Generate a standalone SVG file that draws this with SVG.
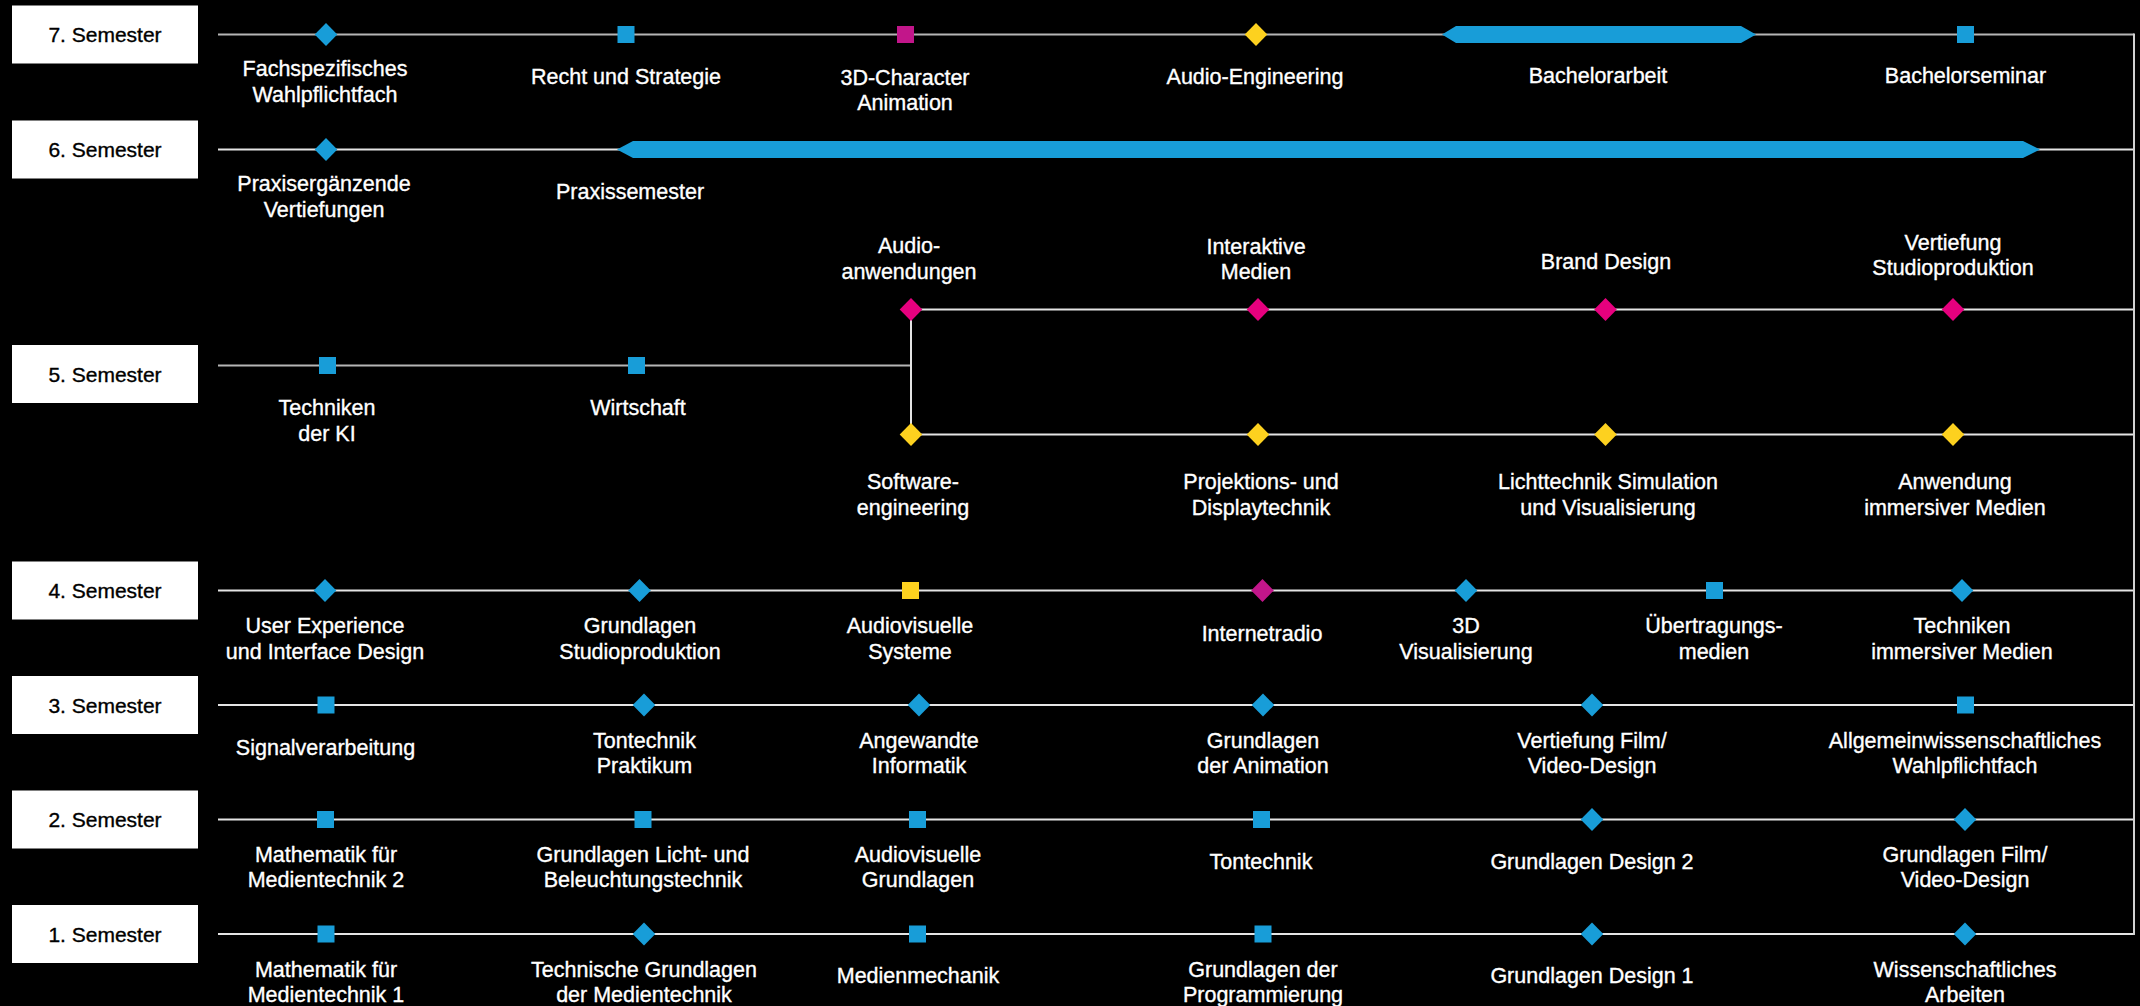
<svg xmlns="http://www.w3.org/2000/svg" xmlns:xlink="http://www.w3.org/1999/xlink" width="2140" height="1006" viewBox="0 0 2140 1006">
<style>
.ln{stroke:#e4e4e4;stroke-width:2;fill:none}
.ln.dim{stroke:#b5b5b5}
.ln.v{stroke:#d2d2d2}
.blue{fill:#189dd8}
.mag{fill:#c2168a}
.pink{fill:#e6007e}
.yel{fill:#fdd11f}
.box{fill:#ffffff}
.sem{font-family:"Liberation Sans",Arial,sans-serif;font-size:21px;fill:#000;stroke:#000;stroke-width:0.35;text-anchor:middle}
.lbl{font-family:"Liberation Sans",Arial,sans-serif;font-size:21.5px;fill:#fff;stroke:#fff;stroke-width:0.35;text-anchor:middle}
</style>
<defs>
<path id="dia" d="M0,-11.5 L11.3,0 L0,11.5 L-11.3,0 Z"/>
<rect id="sq" x="-8.5" y="-8.5" width="17" height="17"/>
</defs>
<rect x="0" y="0" width="2140" height="1006" fill="#000"/>

<g id="connectors">
<line class="ln dim" x1="218" y1="34.5" x2="2134" y2="34.5"/>
<line class="ln" x1="218" y1="149.5" x2="2134" y2="149.5"/>
<line class="ln dim" x1="218" y1="365.5" x2="911" y2="365.5"/>
<line class="ln" x1="911" y1="309.5" x2="911" y2="434.5"/>
<line class="ln" x1="911" y1="309.5" x2="2134" y2="309.5"/>
<line class="ln" x1="911" y1="434.5" x2="2134" y2="434.5"/>
<line class="ln" x1="218" y1="590.5" x2="2134" y2="590.5"/>
<line class="ln" x1="218" y1="705" x2="2134" y2="705"/>
<line class="ln" x1="218" y1="819.5" x2="2134" y2="819.5"/>
<line class="ln" x1="218" y1="934" x2="2134" y2="934"/>
<line class="ln v" x1="2134" y1="33.5" x2="2134" y2="935"/>
</g>

<g id="semesters">
<g id="sem7"><rect class="box" x="12" y="5.5" width="186" height="58"/><text class="sem" x="105" y="42">7. Semester</text></g>
<g id="sem6"><rect class="box" x="12" y="120.5" width="186" height="58"/><text class="sem" x="105" y="157">6. Semester</text></g>
<g id="sem5"><rect class="box" x="12" y="345" width="186" height="58"/><text class="sem" x="105" y="381.5">5. Semester</text></g>
<g id="sem4"><rect class="box" x="12" y="561.5" width="186" height="58"/><text class="sem" x="105" y="598">4. Semester</text></g>
<g id="sem3"><rect class="box" x="12" y="676" width="186" height="58"/><text class="sem" x="105" y="712.5">3. Semester</text></g>
<g id="sem2"><rect class="box" x="12" y="790.5" width="186" height="58"/><text class="sem" x="105" y="827">2. Semester</text></g>
<g id="sem1"><rect class="box" x="12" y="905" width="186" height="58"/><text class="sem" x="105" y="941.5">1. Semester</text></g>
</g>

<!-- Semester 7 -->
<g id="n7-1"><use xlink:href="#dia" x="326" y="34.5" class="blue"/><text class="lbl" x="325" y="76">Fachspezifisches</text><text class="lbl" x="325" y="102">Wahlpflichtfach</text></g>
<g id="n7-2"><use xlink:href="#sq" x="626" y="34.5" class="blue"/><text class="lbl" x="626" y="84">Recht und Strategie</text></g>
<g id="n7-3"><use xlink:href="#sq" x="905.5" y="34.5" class="mag"/><text class="lbl" x="905" y="85">3D-Character</text><text class="lbl" x="905" y="110">Animation</text></g>
<g id="n7-4"><use xlink:href="#dia" x="1256" y="34.5" class="yel"/><text class="lbl" x="1255" y="84">Audio-Engineering</text></g>
<g id="n7-5"><polygon class="blue" points="1442,34.5 1456,26 1741,26 1756,34.5 1741,43 1456,43"/><text class="lbl" x="1598" y="83">Bachelorarbeit</text></g>
<g id="n7-6"><use xlink:href="#sq" x="1965.5" y="34.5" class="blue"/><text class="lbl" x="1965.5" y="83">Bachelorseminar</text></g>

<!-- Semester 6 -->
<g id="n6-1"><use xlink:href="#dia" x="326" y="149.5" class="blue"/><text class="lbl" x="324" y="191">Praxisergänzende</text><text class="lbl" x="324" y="217">Vertiefungen</text></g>
<g id="n6-2"><polygon class="blue" points="617,149.5 633,141 2023,141 2040,149.5 2023,158 633,158"/><text class="lbl" x="630" y="199">Praxissemester</text></g>

<!-- Semester 5 -->
<g id="n5-1"><use xlink:href="#sq" x="327.5" y="365.5" class="blue"/><text class="lbl" x="327" y="415">Techniken</text><text class="lbl" x="327" y="441">der KI</text></g>
<g id="n5-2"><use xlink:href="#sq" x="636.5" y="365.5" class="blue"/><text class="lbl" x="638" y="415">Wirtschaft</text></g>
<g id="n5-3"><use xlink:href="#dia" x="911" y="309.5" class="pink"/><text class="lbl" x="909" y="253">Audio-</text><text class="lbl" x="909" y="279">anwendungen</text></g>
<g id="n5-4"><use xlink:href="#dia" x="1258" y="309.5" class="pink"/><text class="lbl" x="1256" y="254">Interaktive</text><text class="lbl" x="1256" y="279">Medien</text></g>
<g id="n5-5"><use xlink:href="#dia" x="1605.5" y="309.5" class="pink"/><text class="lbl" x="1606" y="269">Brand Design</text></g>
<g id="n5-6"><use xlink:href="#dia" x="1953" y="309.5" class="pink"/><text class="lbl" x="1953" y="250">Vertiefung</text><text class="lbl" x="1953" y="275">Studioproduktion</text></g>
<g id="n5-7"><use xlink:href="#dia" x="911" y="434.5" class="yel"/><text class="lbl" x="913" y="489">Software-</text><text class="lbl" x="913" y="515">engineering</text></g>
<g id="n5-8"><use xlink:href="#dia" x="1258" y="434.5" class="yel"/><text class="lbl" x="1261" y="489">Projektions- und</text><text class="lbl" x="1261" y="515">Displaytechnik</text></g>
<g id="n5-9"><use xlink:href="#dia" x="1605.5" y="434.5" class="yel"/><text class="lbl" x="1608" y="489">Lichttechnik Simulation</text><text class="lbl" x="1608" y="515">und Visualisierung</text></g>
<g id="n5-10"><use xlink:href="#dia" x="1953" y="434.5" class="yel"/><text class="lbl" x="1955" y="489">Anwendung</text><text class="lbl" x="1955" y="515">immersiver Medien</text></g>

<!-- Semester 4 -->
<g id="n4-1"><use xlink:href="#dia" x="325" y="590.5" class="blue"/><text class="lbl" x="325" y="633">User Experience</text><text class="lbl" x="325" y="659">und Interface Design</text></g>
<g id="n4-2"><use xlink:href="#dia" x="639.5" y="590.5" class="blue"/><text class="lbl" x="640" y="633">Grundlagen</text><text class="lbl" x="640" y="659">Studioproduktion</text></g>
<g id="n4-3"><use xlink:href="#sq" x="910.5" y="590.5" class="yel"/><text class="lbl" x="910" y="633">Audiovisuelle</text><text class="lbl" x="910" y="659">Systeme</text></g>
<g id="n4-4"><use xlink:href="#dia" x="1262.5" y="590.5" class="mag"/><text class="lbl" x="1262" y="641">Internetradio</text></g>
<g id="n4-5"><use xlink:href="#dia" x="1466" y="590.5" class="blue"/><text class="lbl" x="1466" y="633">3D</text><text class="lbl" x="1466" y="659">Visualisierung</text></g>
<g id="n4-6"><use xlink:href="#sq" x="1714.5" y="590.5" class="blue"/><text class="lbl" x="1714" y="633">Übertragungs-</text><text class="lbl" x="1714" y="659">medien</text></g>
<g id="n4-7"><use xlink:href="#dia" x="1962" y="590.5" class="blue"/><text class="lbl" x="1962" y="633">Techniken</text><text class="lbl" x="1962" y="659">immersiver Medien</text></g>

<!-- Semester 3 -->
<g id="n3-1"><use xlink:href="#sq" x="326" y="705" class="blue"/><text class="lbl" x="325.5" y="755">Signalverarbeitung</text></g>
<g id="n3-2"><use xlink:href="#dia" x="644" y="705" class="blue"/><text class="lbl" x="644.5" y="748">Tontechnik</text><text class="lbl" x="644.5" y="773">Praktikum</text></g>
<g id="n3-3"><use xlink:href="#dia" x="919" y="705" class="blue"/><text class="lbl" x="919" y="748">Angewandte</text><text class="lbl" x="919" y="773">Informatik</text></g>
<g id="n3-4"><use xlink:href="#dia" x="1263" y="705" class="blue"/><text class="lbl" x="1263" y="748">Grundlagen</text><text class="lbl" x="1263" y="773">der Animation</text></g>
<g id="n3-5"><use xlink:href="#dia" x="1592" y="705" class="blue"/><text class="lbl" x="1592" y="748">Vertiefung Film/</text><text class="lbl" x="1592" y="773">Video-Design</text></g>
<g id="n3-6"><use xlink:href="#sq" x="1965.5" y="705" class="blue"/><text class="lbl" x="1965" y="748">Allgemeinwissenschaftliches</text><text class="lbl" x="1965" y="773">Wahlpflichtfach</text></g>

<!-- Semester 2 -->
<g id="n2-1"><use xlink:href="#sq" x="325.5" y="819.5" class="blue"/><text class="lbl" x="326" y="862">Mathematik für</text><text class="lbl" x="326" y="887">Medientechnik 2</text></g>
<g id="n2-2"><use xlink:href="#sq" x="643" y="819.5" class="blue"/><text class="lbl" x="643" y="862">Grundlagen Licht- und</text><text class="lbl" x="643" y="887">Beleuchtungstechnik</text></g>
<g id="n2-3"><use xlink:href="#sq" x="917.5" y="819.5" class="blue"/><text class="lbl" x="918" y="862">Audiovisuelle</text><text class="lbl" x="918" y="887">Grundlagen</text></g>
<g id="n2-4"><use xlink:href="#sq" x="1261.5" y="819.5" class="blue"/><text class="lbl" x="1261" y="869">Tontechnik</text></g>
<g id="n2-5"><use xlink:href="#dia" x="1592" y="819.5" class="blue"/><text class="lbl" x="1592" y="869">Grundlagen Design 2</text></g>
<g id="n2-6"><use xlink:href="#dia" x="1965" y="819.5" class="blue"/><text class="lbl" x="1965" y="862">Grundlagen Film/</text><text class="lbl" x="1965" y="887">Video-Design</text></g>

<!-- Semester 1 -->
<g id="n1-1"><use xlink:href="#sq" x="326" y="934" class="blue"/><text class="lbl" x="326" y="977">Mathematik für</text><text class="lbl" x="326" y="1002">Medientechnik 1</text></g>
<g id="n1-2"><use xlink:href="#dia" x="644" y="934" class="blue"/><text class="lbl" x="644" y="977">Technische Grundlagen</text><text class="lbl" x="644" y="1002">der Medientechnik</text></g>
<g id="n1-3"><use xlink:href="#sq" x="917.5" y="934" class="blue"/><text class="lbl" x="918" y="983">Medienmechanik</text></g>
<g id="n1-4"><use xlink:href="#sq" x="1263" y="934" class="blue"/><text class="lbl" x="1263" y="977">Grundlagen der</text><text class="lbl" x="1263" y="1002">Programmierung</text></g>
<g id="n1-5"><use xlink:href="#dia" x="1592" y="934" class="blue"/><text class="lbl" x="1592" y="983">Grundlagen Design 1</text></g>
<g id="n1-6"><use xlink:href="#dia" x="1965" y="934" class="blue"/><text class="lbl" x="1965" y="977">Wissenschaftliches</text><text class="lbl" x="1965" y="1002">Arbeiten</text></g>
</svg>
